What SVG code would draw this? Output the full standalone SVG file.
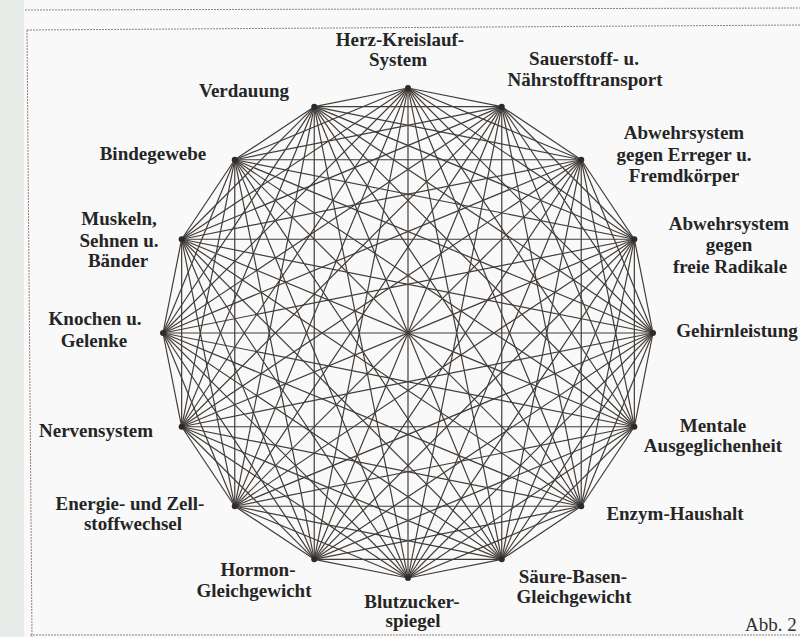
<svg xmlns="http://www.w3.org/2000/svg" width="800" height="637" viewBox="0 0 800 637">
<style>
.bg{fill:#f9f9f9}
.strip{fill:#e7ece9}
.frame{stroke:#8c8374;stroke-width:1;stroke-dasharray:2 1;fill:none}
.edges polygon,.edges line{fill:none;stroke:#423d39;stroke-width:1.2;stroke-linejoin:round}
.dot{fill:#2b2b2e}
.lbl{font-family:"Liberation Serif","Times New Roman",serif;font-weight:bold;font-size:19px;fill:#252525;text-anchor:middle}
.abb{font-family:"Liberation Serif","Times New Roman",serif;font-size:19px;fill:#303030}
</style>
<rect class="bg" x="0" y="0" width="800" height="637"/>
<rect class="strip" x="0" y="0" width="24" height="637"/>
<g id="frame">
<line class="frame" x1="25" y1="10" x2="800" y2="8"/>
<line class="frame" x1="27" y1="30" x2="800" y2="25"/>
<line class="frame" x1="27" y1="30" x2="32" y2="637"/>
<line class="frame" x1="30" y1="635" x2="800" y2="635"/>
</g>
<g id="connectors" class="edges">
<polygon points="408,88 501.76,106.65 581.24,159.76 634.35,239.24 653,333 634.35,426.76 581.24,506.24 501.76,559.35 408,578 314.24,559.35 234.76,506.24 181.65,426.76 163,333 181.65,239.24 234.76,159.76 314.24,106.65"/>
<polygon points="408,88 581.24,159.76 653,333 581.24,506.24 408,578 234.76,506.24 163,333 234.76,159.76"/>
<polygon points="501.76,106.65 634.35,239.24 634.35,426.76 501.76,559.35 314.24,559.35 181.65,426.76 181.65,239.24 314.24,106.65"/>
<polygon points="408,88 634.35,239.24 581.24,506.24 314.24,559.35 163,333 314.24,106.65 581.24,159.76 634.35,426.76 408,578 181.65,426.76 234.76,159.76 501.76,106.65 653,333 501.76,559.35 234.76,506.24 181.65,239.24"/>
<polygon points="408,88 653,333 408,578 163,333"/>
<polygon points="501.76,106.65 634.35,426.76 314.24,559.35 181.65,239.24"/>
<polygon points="581.24,159.76 581.24,506.24 234.76,506.24 234.76,159.76"/>
<polygon points="634.35,239.24 501.76,559.35 181.65,426.76 314.24,106.65"/>
<polygon points="408,88 634.35,426.76 234.76,506.24 314.24,106.65 653,333 314.24,559.35 234.76,159.76 634.35,239.24 408,578 181.65,239.24 581.24,159.76 501.76,559.35 163,333 501.76,106.65 581.24,506.24 181.65,426.76"/>
<polygon points="408,88 581.24,506.24 163,333 581.24,159.76 408,578 234.76,159.76 653,333 234.76,506.24"/>
<polygon points="501.76,106.65 501.76,559.35 181.65,239.24 634.35,239.24 314.24,559.35 314.24,106.65 634.35,426.76 181.65,426.76"/>
<polygon points="408,88 501.76,559.35 234.76,159.76 634.35,426.76 163,333 634.35,239.24 234.76,506.24 501.76,106.65 408,578 314.24,106.65 581.24,506.24 181.65,239.24 653,333 181.65,426.76 581.24,159.76 314.24,559.35"/>
<line x1="408" y1="88" x2="408" y2="578"/>
<line x1="501.76" y1="106.65" x2="314.24" y2="559.35"/>
<line x1="581.24" y1="159.76" x2="234.76" y2="506.24"/>
<line x1="634.35" y1="239.24" x2="181.65" y2="426.76"/>
<line x1="653" y1="333" x2="163" y2="333"/>
<line x1="634.35" y1="426.76" x2="181.65" y2="239.24"/>
<line x1="581.24" y1="506.24" x2="234.76" y2="159.76"/>
<line x1="501.76" y1="559.35" x2="314.24" y2="106.65"/>
</g>
<g id="n0"><circle class="dot" cx="408" cy="88" r="3"/><text class="lbl" x="400" y="46">Herz-Kreislauf-</text><text class="lbl" x="398" y="66">System</text></g>
<g id="n1"><circle class="dot" cx="501.76" cy="106.65" r="3"/><text class="lbl" x="584" y="65">Sauerstoff- u.</text><text class="lbl" x="585" y="86">Nährstofftransport</text></g>
<g id="n2"><circle class="dot" cx="581.24" cy="159.76" r="3"/><text class="lbl" x="684" y="139">Abwehrsystem</text><text class="lbl" x="684" y="161">gegen Erreger u.</text><text class="lbl" x="684" y="182">Fremdkörper</text></g>
<g id="n3"><circle class="dot" cx="634.35" cy="239.24" r="3"/><text class="lbl" x="729" y="230">Abwehrsystem</text><text class="lbl" x="729" y="251">gegen</text><text class="lbl" x="730" y="273">freie Radikale</text></g>
<g id="n4"><circle class="dot" cx="653" cy="333" r="3"/><text class="lbl" x="737" y="337">Gehirnleistung</text></g>
<g id="n5"><circle class="dot" cx="634.35" cy="426.76" r="3"/><text class="lbl" x="713" y="432">Mentale</text><text class="lbl" x="713" y="452">Ausgeglichenheit</text></g>
<g id="n6"><circle class="dot" cx="581.24" cy="506.24" r="3"/><text class="lbl" x="675" y="520">Enzym-Haushalt</text></g>
<g id="n7"><circle class="dot" cx="501.76" cy="559.35" r="3"/><text class="lbl" x="573" y="583">Säure-Basen-</text><text class="lbl" x="574" y="603">Gleichgewicht</text></g>
<g id="n8"><circle class="dot" cx="408" cy="578" r="3"/><text class="lbl" x="412" y="608">Blutzucker-</text><text class="lbl" x="413" y="627">spiegel</text></g>
<g id="n9"><circle class="dot" cx="314.24" cy="559.35" r="3"/><text class="lbl" x="258" y="576">Hormon-</text><text class="lbl" x="254" y="597">Gleichgewicht</text></g>
<g id="n10"><circle class="dot" cx="234.76" cy="506.24" r="3"/><text class="lbl" x="130" y="510">Energie- und Zell-</text><text class="lbl" x="133" y="530">stoffwechsel</text></g>
<g id="n11"><circle class="dot" cx="181.65" cy="426.76" r="3"/><text class="lbl" x="96" y="437">Nervensystem</text></g>
<g id="n12"><circle class="dot" cx="163" cy="333" r="3"/><text class="lbl" x="95" y="325">Knochen u.</text><text class="lbl" x="94" y="347">Gelenke</text></g>
<g id="n13"><circle class="dot" cx="181.65" cy="239.24" r="3"/><text class="lbl" x="119" y="225">Muskeln,</text><text class="lbl" x="119" y="247">Sehnen u.</text><text class="lbl" x="118" y="267">Bänder</text></g>
<g id="n14"><circle class="dot" cx="234.76" cy="159.76" r="3"/><text class="lbl" x="153" y="160">Bindegewebe</text></g>
<g id="n15"><circle class="dot" cx="314.24" cy="106.65" r="3"/><text class="lbl" x="244" y="97">Verdauung</text></g>
<text class="abb" x="745" y="631">Abb. 2</text>
</svg>
